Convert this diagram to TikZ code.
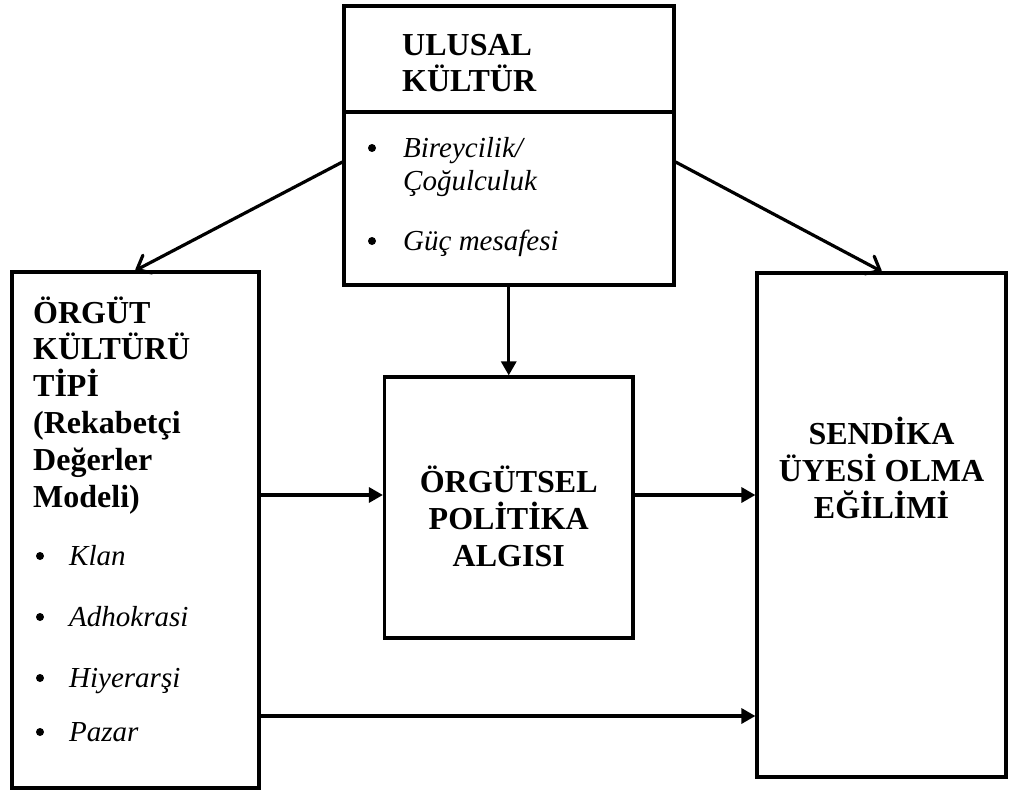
\documentclass[tikz,border=0pt]{standalone}
\usepackage{fontspec}
\setmainfont{Liberation Serif}
\usetikzlibrary{arrows.meta}
\begin{document}
\begin{tikzpicture}[x=1pt,y=-1pt,
  boxline/.style={line width=3.2pt},
  box/.style={draw, boxline, inner sep=0pt},
  headtext/.style={font=\fontsize{32}{36.8}\selectfont\bfseries, inner sep=0pt, anchor=base west, align=left},
  centertext/.style={headtext, anchor=base, align=center},
  itemtext/.style={font=\fontsize{29}{33}\selectfont\itshape, inner sep=0pt, anchor=base west, align=left},
  flow/.style={line width=3.2pt, -{Triangle[length=14pt,width=15pt]}},
  influence/.style={line width=3.2pt, line cap=round,
    -{Straight Barb[length=12pt,width=20pt,line cap=round,line join=round]}},
  dot/.style={fill=black}
]
\useasboundingbox (0,0) rectangle (1011,792);

% boxes
\node[box, minimum width=330pt, minimum height=279pt] (ulusal) at (509,145.5) {};
\node[box, minimum width=247pt, minimum height=516pt] (orgut) at (135.5,530) {};
\node[box, minimum width=248.5pt, minimum height=261pt] (orgutsel) at (508.75,507.5) {};
\node[box, minimum width=249pt, minimum height=504pt] (sendika) at (881.5,525) {};

% header rule of the national culture box
\coordinate (split) at (0,112);
\draw[boxline] (ulusal.west |- split) -- (ulusal.east |- split);

% national culture (multi-line nodes sit on the baseline of their last line)
\node[headtext] (ulusaltitle) at (402,92) {ULUSAL\\KÜLTÜR};
\node[itemtext] (bireycilik) at (403,190) {Bireycilik/\\Çoğulculuk};
\node[itemtext] (guc) at (403,250) {Güç mesafesi};
\fill[dot] (372,148) circle (4pt);
\fill[dot] (372,241) circle (4pt);

% organisational culture type
\node[headtext] (orguttitle) at (33,507) {ÖRGÜT\\KÜLTÜRÜ\\TİPİ\\(Rekabetçi\\Değerler\\Modeli)};
\node[itemtext] (klan) at (69,565) {Klan};
\node[itemtext] (adhokrasi) at (69,626) {Adhokrasi};
\node[itemtext] (hiyerarsi) at (69,687) {Hiyerarşi};
\node[itemtext] (pazar) at (69,741) {Pazar};
\foreach \yy in {556,617,678,732}
  \fill[dot] (40,\yy) circle (4pt);

% perceived organisational politics
\node[centertext] (orgutseltext) at (508.75,566) {ÖRGÜTSEL\\POLİTİKA\\ALGISI};

% union membership tendency
\node[centertext] (sendikatext) at (881.5,518) {SENDİKA\\ÜYESİ OLMA\\EĞİLİMİ};

% connectors
\draw[influence] ([yshift=-16.5pt]ulusal.west) -- (orgut.north);
\draw[influence] ([yshift=-16.5pt]ulusal.east) -- (sendika.north);
\draw[flow] (orgutsel.north |- ulusal.south) -- (orgutsel.north);

\coordinate (mid) at (0,495);
\coordinate (low) at (0,716);
\draw[flow] (orgut.east |- mid) -- (orgutsel.west |- mid);
\draw[flow] (orgutsel.east |- mid) -- (sendika.west |- mid);
\draw[flow] (orgut.east |- low) -- (sendika.west |- low);
\end{tikzpicture}
\end{document}
